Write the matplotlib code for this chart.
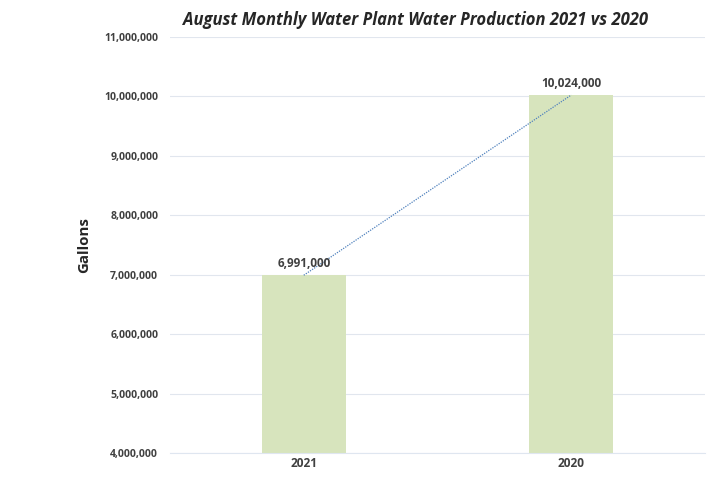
import matplotlib
matplotlib.use("Agg")
import matplotlib.pyplot as plt
from matplotlib.ticker import FuncFormatter

categories = ["2021", "2020"]
values = [6991000, 10024000]
yticks = list(range(4000000, 11000001, 1000000))

plt.rcParams['font.family'] = ['Open Sans', 'DejaVu Sans']

fig = plt.figure(figsize=(7.15, 5.04), dpi=100)
L, R, B, T = 170, 705, 453, 37
ax = fig.add_axes([L/715, 1-B/504, (R-L)/715, (B-T)/504])

x = list(range(len(categories)))
ax.bar(x, values, width=0.315, color="#d7e4bd", zorder=2)
ax.plot(x, values, linestyle=(0, (1, 1)), color="#4f81bd", linewidth=0.9, zorder=3)

for xi, v in zip(x, values):
    ax.text(xi, v + 90000, f"{v:,}", ha="center", va="bottom",
            fontsize=8.5, fontweight="bold", color="#404040", zorder=4)

ax.set_xlim(-0.5, 1.5)
ax.set_ylim(4000000, 11000000)
ax.set_yticks(yticks)
ax.yaxis.set_major_formatter(FuncFormatter(lambda v, p: f"{int(v):,}"))
ax.set_xticks(x)
ax.set_xticklabels(categories)
ax.tick_params(axis="y", length=0, labelsize=7.6, colors="#404040", pad=8.5)
ax.tick_params(axis="x", length=0, labelsize=8.6, colors="#404040", pad=3)
for lab in ax.get_xticklabels() + ax.get_yticklabels():
    lab.set_fontweight("bold")

ax.grid(axis="y", color="#e1e6ee", linewidth=0.8, zorder=0)
for s in ["top", "right", "left"]:
    ax.spines[s].set_visible(False)
ax.spines["bottom"].set_color("#dfe6f0")

ax.set_ylabel("Gallons", fontsize=10.8, fontweight="bold", color="#262626")
ax.yaxis.set_label_coords((91-L)/(R-L), 0.5)
fig.text(415/715, 1-20/504, "August Monthly Water Plant Water Production 2021 vs 2020",
         ha="center", va="center", fontsize=12, fontweight="bold", fontstyle="italic",
         color="#262626")

fig.savefig("out.png", dpi=100)
